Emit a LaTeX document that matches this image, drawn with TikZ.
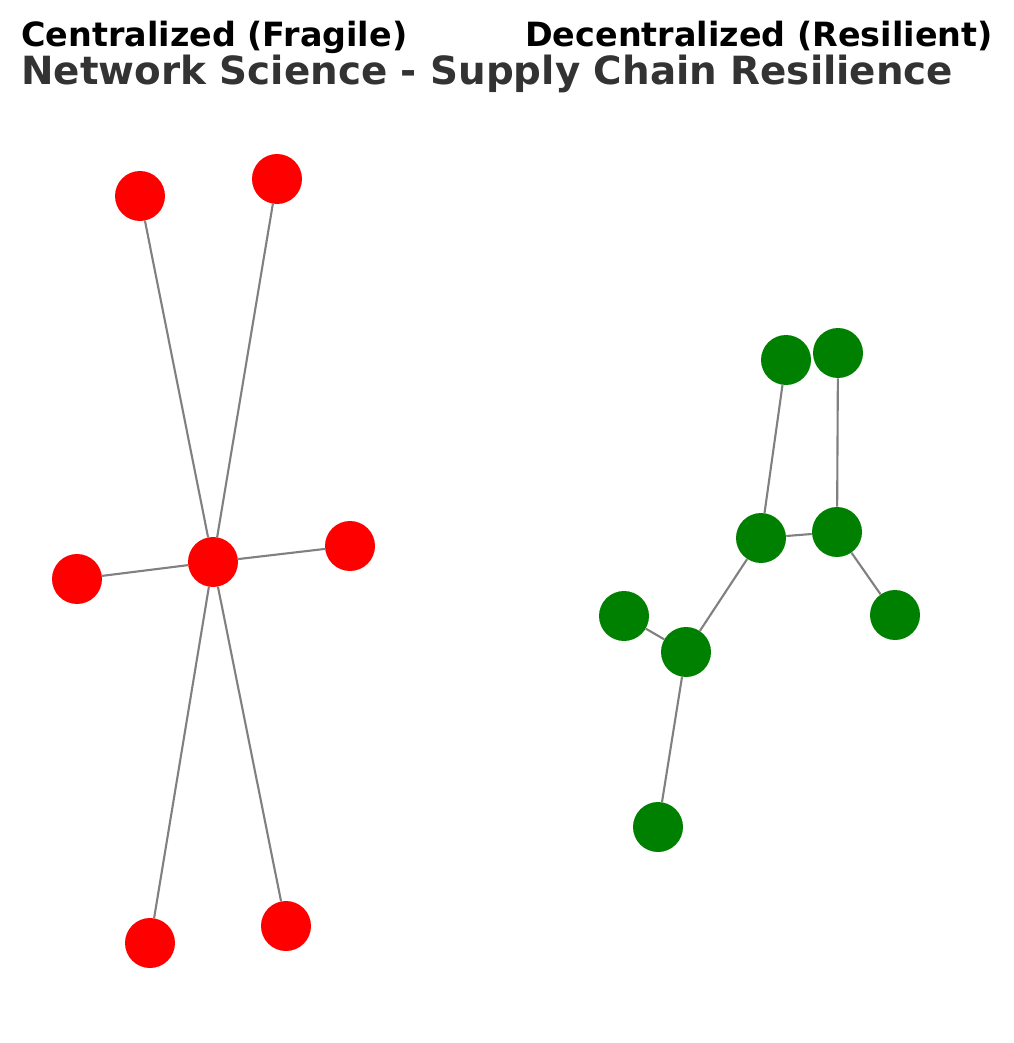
\documentclass[tikz,border=0pt]{standalone}
\usepackage{fontspec}
\setmainfont{DejaVu Sans}
\usepackage{tikz}
\definecolor{hubred}{HTML}{FF0000}
\definecolor{meshgreen}{HTML}{008000}
\definecolor{edgegray}{HTML}{808080}
\definecolor{titlegray}{HTML}{333333}
\tikzset{
  redpt/.style={circle,fill=hubred,inner sep=0pt,minimum size=1cm},
  greenpt/.style={circle,fill=meshgreen,inner sep=0pt,minimum size=1cm},
  link/.style={edgegray,line width=1.2pt}
}

\begin{document}
\begin{tikzpicture}[x=0.02cm,y=-0.02cm]
  \useasboundingbox (0,0) rectangle (1013,1043);
  % centralized star
  \node[redpt] (c0) at (213,562) {};
  \node[redpt] (c1) at (140,196) {};
  \node[redpt] (c2) at (277,179) {};
  \node[redpt] (c3) at (77,579) {};
  \node[redpt] (c4) at (350,546) {};
  \node[redpt] (c5) at (150,943) {};
  \node[redpt] (c6) at (286,926) {};
  % decentralized mesh
  \node[greenpt] (d1) at (786,360) {};
  \node[greenpt] (d2) at (838,353) {};
  \node[greenpt] (d3) at (761,538) {};
  \node[greenpt] (d4) at (837,532) {};
  \node[greenpt] (d5) at (895,615) {};
  \node[greenpt] (d6) at (624,616) {};
  \node[greenpt] (d7) at (686,652) {};
  \node[greenpt] (d8) at (658,827) {};
  \foreach \n in {c1,c2,c3,c4,c5,c6}
    \draw[link] (c0) -- (\n);
  \draw[link] (d1) -- (d3);
  \draw[link] (d2) -- (d4);
  \draw[link] (d3) -- (d4);
  \draw[link] (d4) -- (d5);
  \draw[link] (d3) -- (d7);
  \draw[link] (d6) -- (d7);
  \draw[link] (d7) -- (d8);
  % titles
  \node[anchor=base west,inner sep=0pt,font=\fontsize{19}{23}\selectfont\bfseries] (tl) at (21,47) {Centralized (Fragile)};
  \node[anchor=base east,inner sep=0pt,font=\fontsize{19}{23}\selectfont\bfseries] (tr) at (993,47) {Decentralized (Resilient)};
  \node[anchor=base west,inner sep=0pt,text=titlegray,font=\fontsize{22.1}{26}\selectfont\bfseries] (tm) at (21,85) {Network Science - Supply Chain Resilience};
\end{tikzpicture}
\end{document}
